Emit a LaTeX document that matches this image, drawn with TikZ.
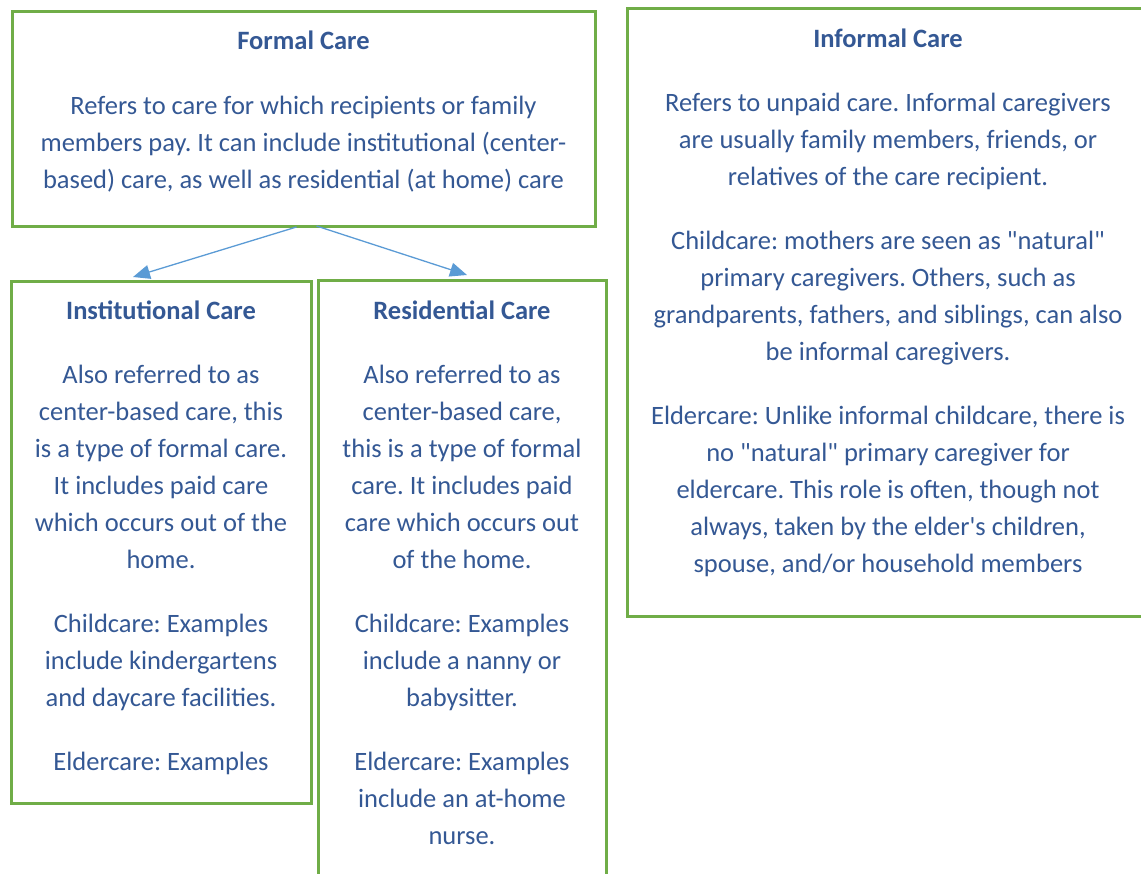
\documentclass[tikz,border=0pt]{standalone}
\usepackage{fontspec}
\setmainfont{Carlito}
\usetikzlibrary{arrows.meta}

\definecolor{boxgreen}{RGB}{112,173,71}
\definecolor{inkblue}{RGB}{52,88,148}
\definecolor{arrowblue}{RGB}{91,155,213}

\begin{document}
\frenchspacing
\begin{tikzpicture}[x=1pt, y=-1pt,
    panel/.style = {rectangle, draw=boxgreen, line width=3pt,
inner sep=0pt, outer sep=0pt, anchor=north west},
    blurb/.style = {anchor=north, align=center, text=inkblue,
inner sep=0pt, font=\fontsize{26.5}{37}\selectfont},
    link/.style = {draw=arrowblue, line width=1.3pt,
-{Triangle[length=17pt,width=14pt]}}
]
  \useasboundingbox (0,0) rectangle (1141,874);

  % boxes
  \node (formal)   [panel, minimum width=583pt, minimum height=215pt] at (12,12) {};
  \node (informal) [panel, minimum width=530pt, minimum height=607pt] at (627,9) {};
  \node (inst)     [panel, minimum width=300pt, minimum height=521pt] at (11,282) {};
  \node (resi)     [panel, minimum width=288pt, minimum height=620pt] at (318,281) {};

  % texts
  \node (formaltxt) [blurb] at (303.5,31) {\textbf{Formal Care}\\[27.5pt]
    Refers to care for which recipients or family\\
    members pay. It can include institutional (center-\\
    based) care, as well as residential (at home) care};

  \node (informaltxt) [blurb] at (888,29) {\textbf{Informal Care}\\[27pt]
    Refers to unpaid care. Informal caregivers\\
    are usually family members, friends, or\\
    relatives of the care recipient.\\[27pt]
    Childcare: mothers are seen as \textquotedbl natural\textquotedbl\\
    primary caregivers. Others, such as\\
    grandparents, fathers, and siblings, can also\\
    be informal caregivers.\\[27pt]
    Eldercare: Unlike informal childcare, there is\\
    no \textquotedbl natural\textquotedbl{} primary caregiver for\\
    eldercare. This role is often, though not\\
    always, taken by the elder\textquotesingle s children,\\
    spouse, and/or household members};

  \node (insttxt) [blurb] at (161,301) {\textbf{Institutional Care}\\[27pt]
    Also referred to as\\
    center-based care, this\\
    is a type of formal care.\\
    It includes paid care\\
    which occurs out of the\\
    home.\\[27pt]
    Childcare: Examples\\
    include kindergartens\\
    and daycare facilities.\\[27pt]
    Eldercare: Examples};

  \node (resitxt) [blurb] at (462,301) {\textbf{Residential Care}\\[27pt]
    Also referred to as\\
    center-based care,\\
    this is a type of formal\\
    care. It includes paid\\
    care which occurs out\\
    of the home.\\[27pt]
    Childcare: Examples\\
    include a nanny or\\
    babysitter.\\[27pt]
    Eldercare: Examples\\
    include an at-home\\
    nurse.};

  % arrows
  \draw[link] ([xshift=-7pt]formal.south) -- ([xshift=-28pt, yshift=5pt]inst.north);
  \draw[link] ([xshift=13pt, yshift=1pt]formal.south) -- ([xshift=5pt, yshift=6pt]resi.north);

\end{tikzpicture}
\end{document}
